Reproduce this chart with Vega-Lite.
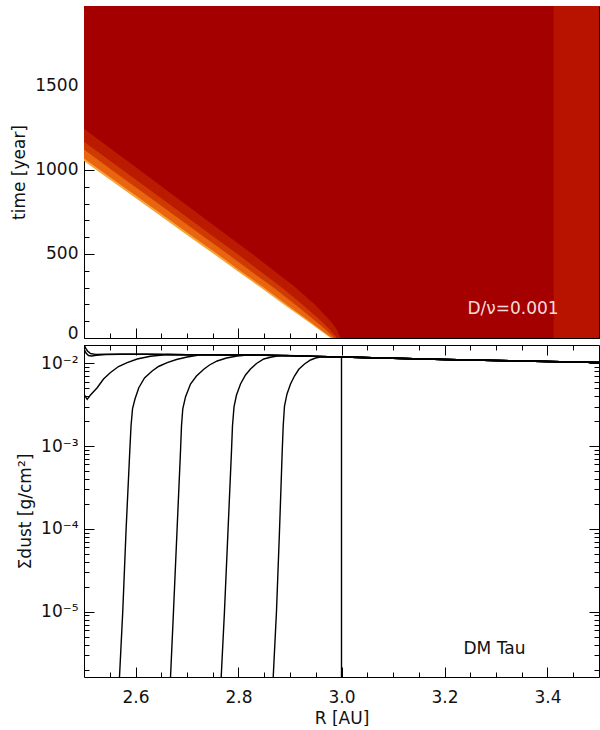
{
  "$schema": "https://vega.github.io/schema/vega-lite/v6.json",
  "padding": {"left": 10, "top": 5, "right": 0, "bottom": 0},
  "background": "white",
  "spacing": 7,
  "bounds": "flush",
  "datasets": {
    "bands": [
      {"band":"e0","t":0,"R":2.979},{"band":"e0","t":50,"R":2.956},{"band":"e0","t":100,"R":2.934},{"band":"e0","t":200,"R":2.888},{"band":"e0","t":300,"R":2.843},{"band":"e0","t":400,"R":2.797},{"band":"e0","t":500,"R":2.752},{"band":"e0","t":600,"R":2.706},{"band":"e0","t":800,"R":2.615},{"band":"e0","t":1000,"R":2.524},{"band":"e0","t":1200,"R":2.434},{"band":"e0","t":1400,"R":2.343},{"band":"e0","t":1976,"R":2.081},
      {"band":"e1","t":0,"R":2.981},{"band":"e1","t":50,"R":2.959},{"band":"e1","t":100,"R":2.938},{"band":"e1","t":200,"R":2.893},{"band":"e1","t":300,"R":2.849},{"band":"e1","t":400,"R":2.803},{"band":"e1","t":500,"R":2.759},{"band":"e1","t":600,"R":2.713},{"band":"e1","t":800,"R":2.622},{"band":"e1","t":1000,"R":2.531},{"band":"e1","t":1200,"R":2.441},{"band":"e1","t":1400,"R":2.351},{"band":"e1","t":1976,"R":2.089},
      {"band":"e2","t":0,"R":2.986},{"band":"e2","t":50,"R":2.969},{"band":"e2","t":100,"R":2.95},{"band":"e2","t":200,"R":2.91},{"band":"e2","t":300,"R":2.868},{"band":"e2","t":400,"R":2.823},{"band":"e2","t":500,"R":2.779},{"band":"e2","t":600,"R":2.734},{"band":"e2","t":800,"R":2.644},{"band":"e2","t":1000,"R":2.554},{"band":"e2","t":1200,"R":2.465},{"band":"e2","t":1400,"R":2.375},{"band":"e2","t":1976,"R":2.114},
      {"band":"e3","t":0,"R":2.991},{"band":"e3","t":50,"R":2.977},{"band":"e3","t":100,"R":2.961},{"band":"e3","t":200,"R":2.924},{"band":"e3","t":300,"R":2.884},{"band":"e3","t":400,"R":2.841},{"band":"e3","t":500,"R":2.798},{"band":"e3","t":600,"R":2.753},{"band":"e3","t":800,"R":2.664},{"band":"e3","t":1000,"R":2.575},{"band":"e3","t":1200,"R":2.486},{"band":"e3","t":1400,"R":2.396},{"band":"e3","t":1976,"R":2.136},
      {"band":"e4","t":0,"R":2.998},{"band":"e4","t":50,"R":2.991},{"band":"e4","t":100,"R":2.979},{"band":"e4","t":200,"R":2.948},{"band":"e4","t":300,"R":2.911},{"band":"e4","t":400,"R":2.869},{"band":"e4","t":500,"R":2.827},{"band":"e4","t":600,"R":2.783},{"band":"e4","t":800,"R":2.695},{"band":"e4","t":1000,"R":2.608},{"band":"e4","t":1200,"R":2.52},{"band":"e4","t":1400,"R":2.431},{"band":"e4","t":1976,"R":2.171}
    ],
    "strip": [{"R1": 3.412, "R2": 3.5, "t1": 0, "t2": 1976}],
    "toplabel": [{"R": 3.333, "t": 173, "text": "D/ν=0.001"}],
    "botlabel": [{"R": 3.297, "v": 3.54e-6, "text": "DM Tau"}],
    "curves": [
      {"c":"c8","R":2.5,"v":0.0171},{"c":"c8","R":2.5029,"v":0.01531},{"c":"c8","R":2.5068,"v":0.01408},{"c":"c8","R":2.5126,"v":0.01314},{"c":"c8","R":2.5223,"v":0.01281},{"c":"c8","R":2.5417,"v":0.01285},{"c":"c8","R":2.58,"v":0.01288},{"c":"c8","R":2.62,"v":0.01285},{"c":"c8","R":2.66,"v":0.01277},
      {"c":"c8","R":2.7,"v":0.01268},{"c":"c8","R":2.75,"v":0.01262},{"c":"c8","R":2.8,"v":0.01259},{"c":"c8","R":2.85,"v":0.01252},{"c":"c8","R":2.9,"v":0.01238},{"c":"c8","R":2.95,"v":0.01212},{"c":"c8","R":3.0,"v":0.01191},{"c":"c8","R":3.1,"v":0.0115},{"c":"c8","R":3.2,"v":0.01112},{"c":"c8","R":3.3,"v":0.0108},{"c":"c8","R":3.4,"v":0.0105},{"c":"c8","R":3.5,"v":0.01023},
      {"c":"c7","R":2.5,"v":0.01489},{"c":"c7","R":2.5039,"v":0.01332},{"c":"c7","R":2.5087,"v":0.01242},{"c":"c7","R":2.5146,"v":0.01225},{"c":"c7","R":2.5243,"v":0.01249},{"c":"c7","R":2.5417,"v":0.01274},{"c":"c7","R":2.5709,"v":0.01288},{"c":"c7","R":2.62,"v":0.01285},{"c":"c7","R":2.66,"v":0.01277},
      {"c":"c7","R":2.7,"v":0.01268},{"c":"c7","R":2.75,"v":0.01262},{"c":"c7","R":2.8,"v":0.01259},{"c":"c7","R":2.85,"v":0.01252},{"c":"c7","R":2.9,"v":0.01238},{"c":"c7","R":2.95,"v":0.01212},{"c":"c7","R":3.0,"v":0.01191},{"c":"c7","R":3.1,"v":0.0115},{"c":"c7","R":3.2,"v":0.01112},{"c":"c7","R":3.3,"v":0.0108},{"c":"c7","R":3.4,"v":0.0105},{"c":"c7","R":3.5,"v":0.01023},
      {"c":"c6","R":2.5,"v":0.0042},{"c":"c6","R":2.5062,"v":0.00367},{"c":"c6","R":2.5126,"v":0.00414},{"c":"c6","R":2.5256,"v":0.00507},{"c":"c6","R":2.5379,"v":0.00646},{"c":"c6","R":2.5515,"v":0.00774},{"c":"c6","R":2.567,"v":0.00915},{"c":"c6","R":2.5839,"v":0.01017},{"c":"c6","R":2.6033,"v":0.01127},{"c":"c6","R":2.6291,"v":0.01215},{"c":"c6","R":2.6616,"v":0.01277},
      {"c":"c6","R":2.7,"v":0.01268},{"c":"c6","R":2.75,"v":0.01262},{"c":"c6","R":2.8,"v":0.01259},{"c":"c6","R":2.85,"v":0.01252},{"c":"c6","R":2.9,"v":0.01238},{"c":"c6","R":2.95,"v":0.01212},{"c":"c6","R":3.0,"v":0.01191},{"c":"c6","R":3.1,"v":0.0115},{"c":"c6","R":3.2,"v":0.01112},{"c":"c6","R":3.3,"v":0.0108},{"c":"c6","R":3.4,"v":0.0105},{"c":"c6","R":3.5,"v":0.01023},
      {"c":"c5","R":2.5674,"v":1e-6},{"c":"c5","R":2.5689,"v":1.627e-6},{"c":"c5","R":2.5753,"v":1.02e-5},{"c":"c5","R":2.5816,"v":9.43e-5},{"c":"c5","R":2.5889,"v":0.000873},{"c":"c5","R":2.5913,"v":0.00175},{"c":"c5","R":2.5942,"v":0.00281},{"c":"c5","R":2.599,"v":0.0037},{"c":"c5","R":2.6064,"v":0.00507},{"c":"c5","R":2.6175,"v":0.00665},{"c":"c5","R":2.6324,"v":0.00807},{"c":"c5","R":2.6447,"v":0.00915},{"c":"c5","R":2.6616,"v":0.01017},{"c":"c5","R":2.6796,"v":0.01111},{"c":"c5","R":2.7004,"v":0.01191},{"c":"c5","R":2.7262,"v":0.01262},
      {"c":"c5","R":2.75,"v":0.01262},{"c":"c5","R":2.8,"v":0.01259},{"c":"c5","R":2.85,"v":0.01252},{"c":"c5","R":2.9,"v":0.01238},{"c":"c5","R":2.95,"v":0.01212},{"c":"c5","R":3.0,"v":0.01191},{"c":"c5","R":3.1,"v":0.0115},{"c":"c5","R":3.2,"v":0.01112},{"c":"c5","R":3.3,"v":0.0108},{"c":"c5","R":3.4,"v":0.0105},{"c":"c5","R":3.5,"v":0.01023},
      {"c":"c4","R":2.6664,"v":1e-6},{"c":"c4","R":2.668,"v":1.627e-6},{"c":"c4","R":2.6738,"v":1.02e-5},{"c":"c4","R":2.6806,"v":9.43e-5},{"c":"c4","R":2.6874,"v":0.000873},{"c":"c4","R":2.6893,"v":0.00175},{"c":"c4","R":2.6918,"v":0.00281},{"c":"c4","R":2.6971,"v":0.00392},{"c":"c4","R":2.7068,"v":0.00562},{"c":"c4","R":2.7184,"v":0.00702},{"c":"c4","R":2.7326,"v":0.00846},{"c":"c4","R":2.7437,"v":0.00954},{"c":"c4","R":2.7586,"v":0.01066},{"c":"c4","R":2.7767,"v":0.01159},{"c":"c4","R":2.7975,"v":0.01225},{"c":"c4","R":2.8169,"v":0.01257},
      {"c":"c4","R":2.85,"v":0.01252},{"c":"c4","R":2.9,"v":0.01238},{"c":"c4","R":2.95,"v":0.01212},{"c":"c4","R":3.0,"v":0.01191},{"c":"c4","R":3.1,"v":0.0115},{"c":"c4","R":3.2,"v":0.01112},{"c":"c4","R":3.3,"v":0.0108},{"c":"c4","R":3.4,"v":0.0105},{"c":"c4","R":3.5,"v":0.01023},
      {"c":"c3","R":2.7649,"v":1e-6},{"c":"c3","R":2.7664,"v":1.627e-6},{"c":"c3","R":2.7728,"v":1.02e-5},{"c":"c3","R":2.7796,"v":9.43e-5},{"c":"c3","R":2.7864,"v":0.000873},{"c":"c3","R":2.7883,"v":0.00175},{"c":"c3","R":2.7913,"v":0.00297},{"c":"c3","R":2.7961,"v":0.00414},{"c":"c3","R":2.8039,"v":0.00562},{"c":"c3","R":2.8136,"v":0.00722},{"c":"c3","R":2.8233,"v":0.00853},{"c":"c3","R":2.835,"v":0.00994},{"c":"c3","R":2.8491,"v":0.01127},{"c":"c3","R":2.8621,"v":0.01181},{"c":"c3","R":2.8751,"v":0.01225},{"c":"c3","R":2.8946,"v":0.0124},
      {"c":"c3","R":2.95,"v":0.01212},{"c":"c3","R":3.0,"v":0.01191},{"c":"c3","R":3.1,"v":0.0115},{"c":"c3","R":3.2,"v":0.01112},{"c":"c3","R":3.3,"v":0.0108},{"c":"c3","R":3.4,"v":0.0105},{"c":"c3","R":3.5,"v":0.01023},
      {"c":"c2","R":2.8658,"v":1e-6},{"c":"c2","R":2.8674,"v":1.627e-6},{"c":"c2","R":2.8738,"v":1.02e-5},{"c":"c2","R":2.8796,"v":9.43e-5},{"c":"c2","R":2.8849,"v":0.000873},{"c":"c2","R":2.8868,"v":0.00175},{"c":"c2","R":2.8893,"v":0.00305},{"c":"c2","R":2.8942,"v":0.00426},{"c":"c2","R":2.901,"v":0.00562},{"c":"c2","R":2.9087,"v":0.00702},{"c":"c2","R":2.9171,"v":0.00846},{"c":"c2","R":2.9282,"v":0.00981},{"c":"c2","R":2.9398,"v":0.01096},{"c":"c2","R":2.9495,"v":0.01159},{"c":"c2","R":2.9592,"v":0.01191},{"c":"c2","R":2.9709,"v":0.01201},
      {"c":"c2","R":3.0,"v":0.01191},{"c":"c2","R":3.1,"v":0.0115},{"c":"c2","R":3.2,"v":0.01112},{"c":"c2","R":3.3,"v":0.0108},{"c":"c2","R":3.4,"v":0.0105},{"c":"c2","R":3.5,"v":0.01023},
      {"c":"c1","R":3.0,"v":1e-6},{"c":"c1","R":3.0,"v":0.01191},{"c":"c1","R":3.1,"v":0.0115},{"c":"c1","R":3.2,"v":0.01112},{"c":"c1","R":3.3,"v":0.0108},{"c":"c1","R":3.4,"v":0.0105},{"c":"c1","R":3.5,"v":0.01023}
    ]
  },
  "vconcat": [
    {
      "width": 515,
      "height": 332,
      "resolve": {"axis": {"x": "independent", "y": "independent"}},
      "layer": [
        {
          "data": {"name": "bands"},
          "transform": [{"filter": "datum.band === 'e0'"}],
          "mark": {"type": "area", "orient": "horizontal", "clip": true, "color": "#f6a53a"},
          "encoding": {
            "y": {"field": "t", "type": "quantitative", "scale": {"domain": [0, 1976], "nice": false, "zero": false},
                  "axis": {"orient": "left", "title": "time [year]", "values": [0,100,200,300,400,500,600,700,800,900,1000,1100,1200,1300,1400,1500,1600,1700,1800,1900],
                           "format": "d", "labelExpr": "datum.value % 500 === 0 ? datum.label : ''",
                           "tickSize": {"condition": {"test": "datum.value % 500 === 0", "value": -10}, "value": -5},
                           "labelPadding": 16, "labelOverlap": false,
                           "labelBaseline": {"condition": {"test": "datum.value === 0", "value": "alphabetic"}, "value": "middle"},
                           "titlePadding": 6}},
            "x": {"field": "R", "type": "quantitative", "stack": null, "scale": {"domain": [2.5, 3.5], "nice": false, "zero": false},
                  "axis": {"orient": "bottom", "title": null, "labels": false,
                           "values": [2.55,2.6,2.65,2.7,2.75,2.8,2.85,2.9,2.95,3.0,3.05,3.1,3.15,3.2,3.25,3.3,3.35,3.4,3.45],
                           "tickSize": {"condition": {"test": "abs(datum.value*5 - round(datum.value*5)) < 0.001", "value": -10}, "value": -5}}},
            "x2": {"datum": 3.5}
          }
        },
        {
          "data": {"name": "bands"},
          "transform": [{"filter": "datum.band === 'e1'"}],
          "mark": {"type": "area", "orient": "horizontal", "clip": true, "color": "#e9650f"},
          "encoding": {
            "y": {"field": "t", "type": "quantitative", "axis": null},
            "x": {"field": "R", "type": "quantitative", "stack": null, "axis": null},
            "x2": {"datum": 3.5}
          }
        },
        {
          "data": {"name": "bands"},
          "transform": [{"filter": "datum.band === 'e2'"}],
          "mark": {"type": "area", "orient": "horizontal", "clip": true, "color": "#cf3a02"},
          "encoding": {
            "y": {"field": "t", "type": "quantitative", "axis": null},
            "x": {"field": "R", "type": "quantitative", "stack": null, "axis": null},
            "x2": {"datum": 3.5}
          }
        },
        {
          "data": {"name": "bands"},
          "transform": [{"filter": "datum.band === 'e3'"}],
          "mark": {"type": "area", "orient": "horizontal", "clip": true, "color": "#b91a00"},
          "encoding": {
            "y": {"field": "t", "type": "quantitative", "axis": null},
            "x": {"field": "R", "type": "quantitative", "stack": null, "axis": null},
            "x2": {"datum": 3.5}
          }
        },
        {
          "data": {"name": "bands"},
          "transform": [{"filter": "datum.band === 'e4'"}],
          "mark": {"type": "area", "orient": "horizontal", "clip": true, "color": "#a50000"},
          "encoding": {
            "y": {"field": "t", "type": "quantitative", "axis": null},
            "x": {"field": "R", "type": "quantitative", "stack": null, "axis": null},
            "x2": {"datum": 3.5}
          }
        },
        {
          "data": {"name": "strip"},
          "mark": {"type": "rect", "clip": true, "color": "#b81200"},
          "encoding": {
            "x": {"field": "R1", "type": "quantitative", "axis": null},
            "x2": {"field": "R2"},
            "y": {"field": "t1", "type": "quantitative", "axis": null},
            "y2": {"field": "t2"}
          }
        },
        {
          "data": {"name": "toplabel"},
          "mark": {"type": "text", "font": "DejaVu Sans", "fontSize": 17, "color": "#f7dcdc", "align": "center", "baseline": "middle"},
          "encoding": {
            "x": {"field": "R", "type": "quantitative",
                  "axis": {"orient": "top", "title": null, "labels": false,
                           "values": [2.55,2.6,2.65,2.7,2.75,2.8,2.85,2.9,2.95,3.0,3.05,3.1,3.15,3.2,3.25,3.3,3.35,3.4,3.45],
                           "tickSize": {"condition": {"test": "abs(datum.value*5 - round(datum.value*5)) < 0.001", "value": -10}, "value": -5}}},
            "y": {"field": "t", "type": "quantitative",
                  "axis": {"orient": "right", "title": null, "labels": false,
                           "values": [0,100,200,300,400,500,600,700,800,900,1000,1100,1200,1300,1400,1500,1600,1700,1800,1900],
                           "tickSize": {"condition": {"test": "datum.value % 500 === 0", "value": -10}, "value": -5}}},
            "text": {"field": "text"}
          }
        }
      ]
    },
    {
      "width": 515,
      "height": 332,
      "resolve": {"axis": {"x": "independent", "y": "independent"}},
      "layer": [
        {
          "data": {"name": "curves"},
          "mark": {"type": "line", "clip": true, "color": "#000", "strokeWidth": 1.4},
          "encoding": {
            "x": {"field": "R", "type": "quantitative", "scale": {"domain": [2.5, 3.5], "nice": false, "zero": false},
                  "axis": {"orient": "bottom", "title": "R [AU]",
                           "values": [2.55,2.6,2.65,2.7,2.75,2.8,2.85,2.9,2.95,3.0,3.05,3.1,3.15,3.2,3.25,3.3,3.35,3.4,3.45],
                           "labelExpr": "abs(datum.value*5 - round(datum.value*5)) < 0.001 ? format(datum.value, '.1f') : ''",
                           "labelOverlap": false, "labelFlush": false,
                           "tickSize": {"condition": {"test": "abs(datum.value*5 - round(datum.value*5)) < 0.001", "value": -10}, "value": -5},
                           "labelPadding": 22, "titlePadding": 0}},
            "y": {"field": "v", "type": "quantitative", "scale": {"type": "log", "domain": [1.627e-6, 0.01663], "nice": false},
                  "axis": {"orient": "left", "title": "Σdust [g/cm²]",
                           "values": [2e-6,3e-6,4e-6,5e-6,6e-6,7e-6,8e-6,9e-6,1e-5,2e-5,3e-5,4e-5,5e-5,6e-5,7e-5,8e-5,9e-5,1e-4,2e-4,3e-4,4e-4,5e-4,6e-4,7e-4,8e-4,9e-4,1e-3,2e-3,3e-3,4e-3,5e-3,6e-3,7e-3,8e-3,9e-3,1e-2],
                           "labelExpr": "datum.value == 0.01 ? '10⁻²' : datum.value == 0.001 ? '10⁻³' : datum.value == 0.0001 ? '10⁻⁴' : datum.value == 0.00001 ? '10⁻⁵' : ''",
                           "labelOverlap": false,
                           "tickSize": {"condition": {"test": "abs(log(datum.value)/LN10 - round(log(datum.value)/LN10)) < 0.001", "value": -10}, "value": -5},
                           "labelPadding": 16, "titlePadding": 6}},
            "detail": {"field": "c"}
          }
        },
        {
          "data": {"name": "botlabel"},
          "mark": {"type": "text", "font": "DejaVu Sans", "fontSize": 17, "color": "#111", "align": "center", "baseline": "middle"},
          "encoding": {
            "x": {"field": "R", "type": "quantitative",
                  "axis": {"orient": "top", "title": null, "labels": false,
                           "values": [2.55,2.6,2.65,2.7,2.75,2.8,2.85,2.9,2.95,3.0,3.05,3.1,3.15,3.2,3.25,3.3,3.35,3.4,3.45],
                           "tickSize": {"condition": {"test": "abs(datum.value*5 - round(datum.value*5)) < 0.001", "value": -10}, "value": -5}}},
            "y": {"field": "v", "type": "quantitative",
                  "axis": {"orient": "right", "title": null, "labels": false,
                           "values": [2e-6,3e-6,4e-6,5e-6,6e-6,7e-6,8e-6,9e-6,1e-5,2e-5,3e-5,4e-5,5e-5,6e-5,7e-5,8e-5,9e-5,1e-4,2e-4,3e-4,4e-4,5e-4,6e-4,7e-4,8e-4,9e-4,1e-3,2e-3,3e-3,4e-3,5e-3,6e-3,7e-3,8e-3,9e-3,1e-2],
                           "tickSize": {"condition": {"test": "abs(log(datum.value)/LN10 - round(log(datum.value)/LN10)) < 0.001", "value": -10}, "value": -5}}},
            "text": {"field": "text"}
          }
        }
      ]
    }
  ],
  "config": {
    "view": {"stroke": null},
    "axis": {
      "labelFont": "DejaVu Sans", "titleFont": "DejaVu Sans",
      "labelFontSize": 17, "titleFontSize": 17, "titleFontWeight": "normal",
      "labelColor": "#111", "titleColor": "#111",
      "domainColor": "#000", "tickColor": "#000", "domainWidth": 1, "tickWidth": 1,
      "grid": false, "zindex": 1
    }
  }
}
